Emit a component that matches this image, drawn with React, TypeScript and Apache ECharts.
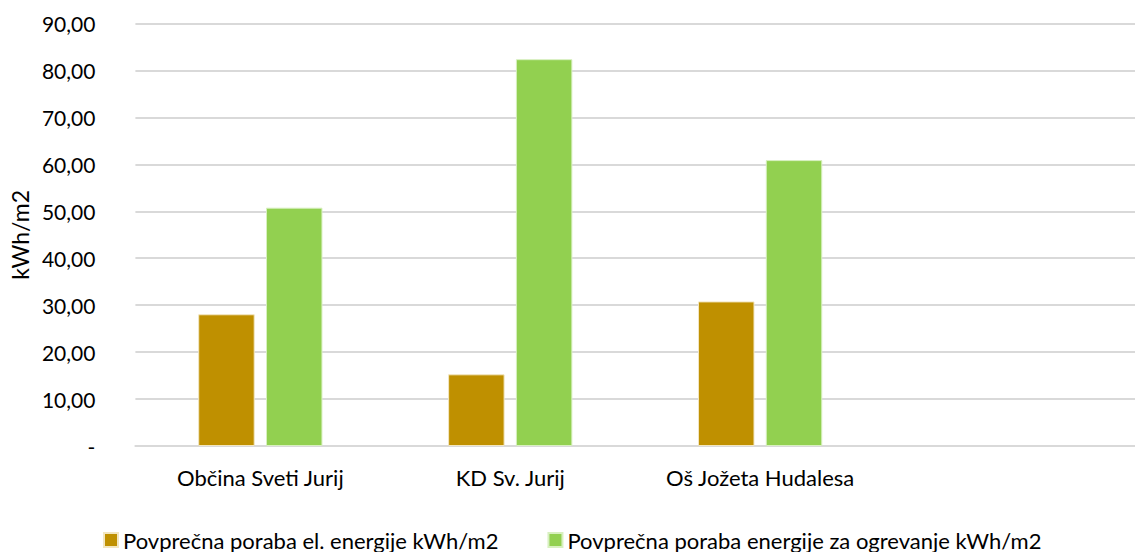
import React, { useEffect, useRef } from "react";
import * as echarts from "echarts";

const categories = ["Občina Sveti Jurij", "KD Sv. Jurij", "Oš Jožeta Hudalesa", ""];
const seriesNames = [
  "Povprečna poraba el. energije kWh/m2",
  "Povprečna poraba energije za ogrevanje kWh/m2",
];
const elValues = [28.06, 15.27, 30.8, null];
const heatValues = [50.77, 82.4, 60.9, null];
const colors = ["#BF9000", "#92D050"];
const FONT = "Lato";

export default function App() {
  const ref = useRef<HTMLDivElement>(null);
  useEffect(() => {
    document.body.style.margin = "0";
    const chart = echarts.init(ref.current!, null, { renderer: "svg" });
    chart.setOption({
      animation: false,
      textStyle: { fontFamily: FONT },
      grid: { left: 134, right: 0, top: 23.5, bottom: 106, containLabel: false },
      legend: {
        top: 523,
        left: 98,
        padding: 5,
        icon: "rect",
        itemWidth: 14,
        itemHeight: 14,
        itemGap: 49,
        textStyle: { fontSize: 22, lineHeight: 24, color: "#000", fontFamily: FONT, fontWeight: "normal" },
        data: seriesNames,
      },
      xAxis: {
        type: "category",
        data: categories,
        axisLine: { show: true, lineStyle: { color: "#d9d9d9", width: 2 } },
        axisTick: { show: false },
        axisLabel: { color: "#000", fontSize: 22, margin: 20, fontFamily: FONT },
      },
      yAxis: {
        type: "value",
        min: 0,
        max: 90,
        interval: 10,
        name: "kWh/m2",
        nameLocation: "middle",
        nameGap: 100,
        nameTextStyle: { color: "#000", fontSize: 23, fontFamily: FONT },
        axisLine: { show: false },
        axisTick: { show: false },
        splitLine: { lineStyle: { color: "#d9d9d9", width: 2 } },
        axisLabel: {
          color: "#000",
          fontSize: 21,
          margin: 40,
          fontFamily: FONT,
          formatter: (v: number) => (v === 0 ? "-" : v.toFixed(2).replace(".", ",")),
        },
      },
      series: [
        {
          name: seriesNames[0],
          type: "bar",
          data: elValues,
          barWidth: "22.6%",
          barGap: "20%",
          itemStyle: { color: colors[0], borderColor: "#f2e6c0", borderWidth: 1 },
        },
        {
          name: seriesNames[1],
          type: "bar",
          data: heatValues,
          barWidth: "22.6%",
          itemStyle: { color: colors[1], borderColor: "#d8f0c0", borderWidth: 1 },
        },
      ],
    });
    return () => chart.dispose();
  }, []);
  return <div ref={ref} style={{ width: 1135, height: 552 }} />;
}
